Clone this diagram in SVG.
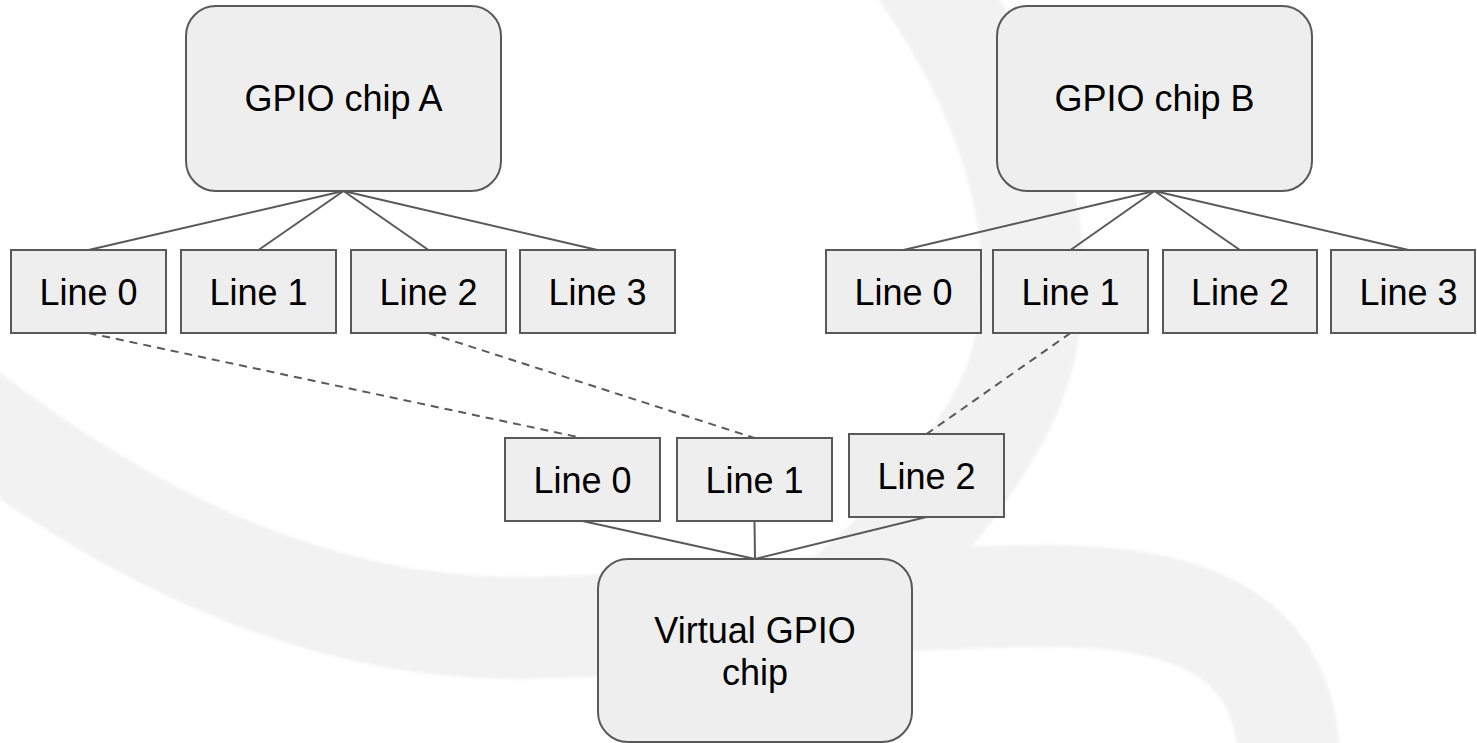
<svg xmlns="http://www.w3.org/2000/svg" width="1477" height="743" viewBox="0 0 1477 743">
  <style>
    .node { fill: #eeeeee; stroke: #595959; stroke-width: 2; }
    .lbl { font-family: "Liberation Sans", Arial, sans-serif; font-size: 36px; fill: #000000; text-anchor: middle; }
    .solid { stroke: #595959; stroke-width: 2; fill: none; }
    .dash { stroke: #595959; stroke-width: 2; fill: none; stroke-dasharray: 8 6; }
    .band { fill: none; stroke: #f2f2f2; stroke-width: 102; }
  </style>
  <defs>
    <filter id="soft" x="-10%" y="-10%" width="120%" height="120%">
      <feGaussianBlur stdDeviation="1.5"/>
    </filter>
  </defs>
  <rect x="0" y="0" width="1477" height="743" fill="#ffffff"/>
  <g id="background" filter="url(#soft)">
    <path class="band" d="M -60,390 C 100,520 300,630 520,628 C 700,626 850,596 1050,596 C 1200,596 1290,640 1289,770"/>
    <path class="band" d="M 920,-30 C 1020,110 1080,300 985,440 C 945,510 890,560 830,610"/>
    <path class="band" style="stroke-width:88" d="M 1050,596 C 1200,596 1290,640 1289,770"/>
  </g>
  <g id="connectors">
    <line class="solid" x1="343.5" y1="191" x2="88.5" y2="250"/>
    <line class="solid" x1="343.5" y1="191" x2="258.5" y2="250"/>
    <line class="solid" x1="343.5" y1="191" x2="428.5" y2="250"/>
    <line class="solid" x1="343.5" y1="191" x2="597.5" y2="250"/>
    <line class="solid" x1="1154.5" y1="191" x2="903.5" y2="250"/>
    <line class="solid" x1="1154.5" y1="191" x2="1070.5" y2="250"/>
    <line class="solid" x1="1154.5" y1="191" x2="1240" y2="250"/>
    <line class="solid" x1="1154.5" y1="191" x2="1408.5" y2="250"/>
    <line class="dash" x1="88.5" y1="333" x2="582.5" y2="438"/>
    <line class="dash" x1="428.5" y1="333" x2="754.5" y2="438"/>
    <line class="dash" x1="1070.5" y1="333" x2="926.5" y2="434"/>
    <line class="solid" x1="582.5" y1="521" x2="755" y2="559"/>
    <line class="solid" x1="754.5" y1="521" x2="755" y2="559"/>
    <line class="solid" x1="926.5" y1="517" x2="755" y2="559"/>
  </g>
  <g id="chipA">
    <rect class="node" x="186" y="6" width="315" height="185" rx="30" ry="30"/>
    <text class="lbl" x="343.5" y="111">GPIO chip A</text>
  </g>
  <g id="chipB">
    <rect class="node" x="997" y="6" width="315" height="185" rx="30" ry="30"/>
    <text class="lbl" x="1154.5" y="111">GPIO chip B</text>
  </g>
  <g id="a-line0"><rect class="node" x="11" y="250" width="155" height="83"/><text class="lbl" x="88.5" y="305">Line 0</text></g>
  <g id="a-line1"><rect class="node" x="181" y="250" width="155" height="83"/><text class="lbl" x="258.5" y="305">Line 1</text></g>
  <g id="a-line2"><rect class="node" x="351" y="250" width="155" height="83"/><text class="lbl" x="428.5" y="305">Line 2</text></g>
  <g id="a-line3"><rect class="node" x="520" y="250" width="155" height="83"/><text class="lbl" x="597.5" y="305">Line 3</text></g>
  <g id="b-line0"><rect class="node" x="826" y="250" width="155" height="83"/><text class="lbl" x="903.5" y="305">Line 0</text></g>
  <g id="b-line1"><rect class="node" x="993" y="250" width="155" height="83"/><text class="lbl" x="1070.5" y="305">Line 1</text></g>
  <g id="b-line2"><rect class="node" x="1163" y="250" width="154" height="83"/><text class="lbl" x="1240" y="305">Line 2</text></g>
  <g id="b-line3"><rect class="node" x="1331" y="250" width="144" height="83"/><text class="lbl" x="1408.5" y="305">Line 3</text></g>
  <g id="v-line0"><rect class="node" x="505" y="438" width="155" height="83"/><text class="lbl" x="582.5" y="493">Line 0</text></g>
  <g id="v-line1"><rect class="node" x="677" y="438" width="155" height="83"/><text class="lbl" x="754.5" y="493">Line 1</text></g>
  <g id="v-line2"><rect class="node" x="849" y="434" width="155" height="83"/><text class="lbl" x="926.5" y="489">Line 2</text></g>
  <g id="virtual">
    <rect class="node" x="598" y="559" width="314" height="183" rx="30" ry="30"/>
    <text class="lbl" x="755" y="643">Virtual GPIO</text>
    <text class="lbl" x="755" y="685">chip</text>
  </g>
</svg>
